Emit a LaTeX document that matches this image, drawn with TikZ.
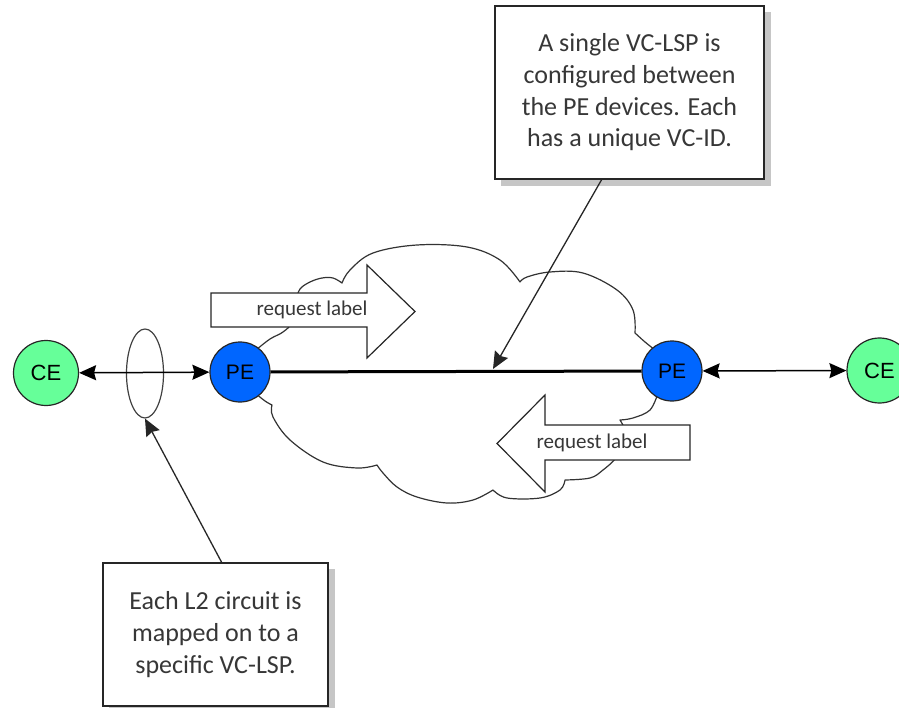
\documentclass[tikz,border=0pt]{standalone}
\usepackage{fontspec}
\setmainfont{Carlito}
\newfontfamily\arialf{Liberation Sans}
\usetikzlibrary{arrows.meta,shapes.geometric}
\definecolor{cegreen}{RGB}{102,255,153}
\definecolor{peblue}{RGB}{0,102,255}
\definecolor{txtgray}{RGB}{55,55,55}
\begin{document}
\begin{tikzpicture}[x=1pt,y=-1pt,
  cenode/.style={circle,draw=black!85,line width=1.2pt,fill=cegreen,minimum size=65pt,inner sep=0pt,font=\arialf\fontsize{22}{26}\selectfont},
  penode/.style={circle,draw=black!85,line width=1.2pt,fill=peblue,minimum size=60pt,inner sep=0pt,font=\arialf\fontsize{21}{25}\selectfont},
  notebox/.style={rectangle,draw=black!85,line width=2pt,fill=white,inner sep=0pt,align=center,text=txtgray,font=\fontsize{26}{31.7}\selectfont},
  shadowbox/.style={fill=gray!45,draw=none},
  cloudline/.style={draw=black!80,line width=1.2pt,line join=round},
  bigarrow/.style={draw=black!85,line width=1.2pt,fill=white,line join=miter},
  arrowtext/.style={text=txtgray,font=\fontsize{21}{25}\selectfont,inner sep=0pt},
  headtip/.tip={Stealth[length=17pt,width=15pt,inset=2pt]},
  tipone/.style={-headtip,line width=1.3pt,draw=black!85},
  tiptwo/.style={headtip-headtip,line width=1.5pt,draw=black},
  ring/.style={ellipse,draw=black!75,line width=1.2pt,minimum width=37pt,minimum height=89pt,inner sep=0pt}
]
\useasboundingbox (0,0) rectangle (899,708);

% shadows
\fill[shadowbox] (501,12) rectangle (771,186);
\fill[shadowbox] (109,569) rectangle (335,712);

% note boxes
\node[notebox,minimum width=269pt,minimum height=173pt] (topnote) at (629.5,92.5)
  {A single VC-LSP is\\configured between\\the PE devices. Each\\has a unique VC-ID.};
\node[notebox,minimum width=225pt,minimum height=143pt] (botnote) at (215.5,634.5)
  {Each L2 circuit is\\mapped on to a\\specific VC-LSP.};

% cloud
\draw[cloudline] (256,350)
  plot[smooth,tension=0.6] coordinates {(256,350)(270,339)(283,332)(292,322)(296,300)}
  -- plot[smooth,tension=0.6] coordinates {(296,300)(300,289)(310,282)(322,278)(333,278)(342,283)}
  -- plot[smooth,tension=0.6] coordinates {(342,283)(350,270)(373,253)(417,245)(467,247)(500,260)(520,282)}
  -- plot[smooth,tension=0.6] coordinates {(520,282)(527,277)(550,272)(583,273)(617,290)(633,310)(635,333)}
  -- plot[smooth,tension=0.6] coordinates {(635,333)(645,342)(655,350)}
  -- (658,393)
  -- plot[smooth,tension=0.6] coordinates {(658,393)(650,410)(633,418)(620,420)}
  -- plot[smooth,tension=0.6] coordinates {(620,420)(628,440)(616,458)(603,470)(590,478)(565,480)}
  -- plot[smooth,tension=0.6] coordinates {(565,480)(560,490)(540,498)(507,498)(493,490)}
  -- plot[smooth,tension=0.6] coordinates {(493,490)(473,500)(447,503)(417,497)(397,487)(383,473)(377,465)}
  -- plot[smooth,tension=0.6] coordinates {(377,465)(357,468)(323,462)(290,440)(273,417)(272,405)}
  -- plot[smooth,tension=0.6] coordinates {(272,405)(265,401)(255,393)}
  -- cycle;

% request label arrows
\draw[bigarrow] (211,293) -- (367,293) -- (367,265) -- (415,311.5) -- (367,358) -- (367,327) -- (211,327) -- cycle;
\node[arrowtext] (reqtop) at (312,310) {request label};
\draw[bigarrow] (690,425) -- (545,425) -- (545,395) -- (497,443.5) -- (545,492) -- (545,460) -- (690,460) -- cycle;
\node[arrowtext] (reqbot) at (592,443) {request label};

% ring around the attachment circuit
\node[ring] (ring) at (145,373.5) {};

% devices
\node[cenode] (ceL) at (46,373) {CE};
\node[penode] (peL) at (240,372) {PE};
\node[penode] (peR) at (672,371) {PE};
\node[cenode] (ceR) at (879.5,370.5) {CE};

% VC-LSP
\draw[line width=3pt,black] (peL) -- (peR);

% access links
\draw[tiptwo] (ceL) -- (peL);
\draw[tiptwo] (peR) -- (ceR);

% callouts
\coordinate (topfoot) at (602,179);
\coordinate (lsptip) at (493,369);
\coordinate (botfoot) at (222,563);
\draw[tipone] (topfoot) -- (lsptip);
\draw[tipone] (botfoot) -- (ring.south);
\end{tikzpicture}
\end{document}
